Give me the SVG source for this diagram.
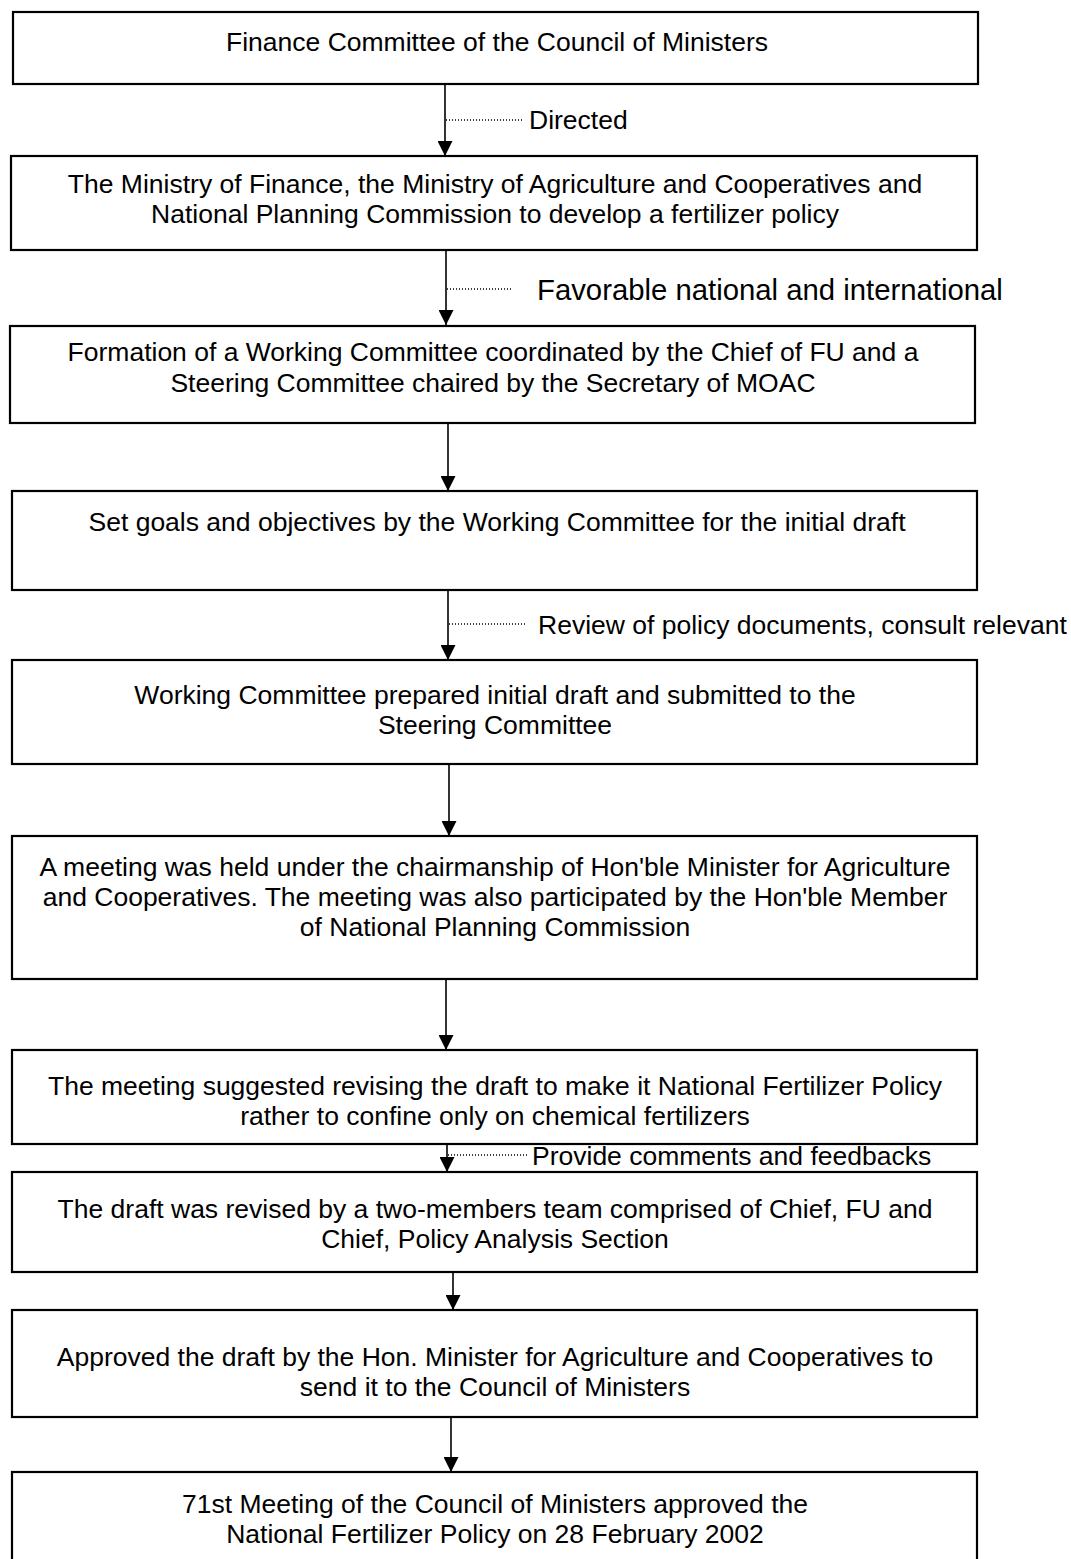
<svg xmlns="http://www.w3.org/2000/svg" width="1071" height="1559" viewBox="0 0 1071 1559">
<defs>
<style>
.box{fill:#fff;stroke:#000;stroke-width:2.2}
.t{font-family:"Liberation Sans",Arial,sans-serif;font-size:26.5px;fill:#000;text-anchor:middle}
.l{font-family:"Liberation Sans",Arial,sans-serif;font-size:26.5px;fill:#000}
.arr{stroke:#000;stroke-width:1.6;fill:none}
.dot{stroke:#000;stroke-width:1.5;stroke-dasharray:1 2;fill:none}
</style>
<marker id="ah" markerWidth="15" markerHeight="15" viewBox="0 0 15 15" refX="15" refY="7.5" orient="auto" markerUnits="userSpaceOnUse">
<path d="M0,0 L15,7.5 L0,15 Z" fill="#000"/>
</marker>
</defs>
<rect width="1071" height="1559" fill="#fff"/>
<g id="connectors">
<line class="arr" x1="445" y1="84" x2="445" y2="156" marker-end="url(#ah)"/>
<line class="dot" x1="446" y1="120" x2="524" y2="120"/>
<text class="l" x="529" y="128.5">Directed</text>
<line class="arr" x1="446" y1="250" x2="446" y2="325" marker-end="url(#ah)"/>
<line class="dot" x1="447" y1="289" x2="512" y2="289"/>
<text class="l" x="537" y="299.5" style="font-size:29.3px">Favorable national and international</text>
<line class="arr" x1="448" y1="423" x2="448" y2="491" marker-end="url(#ah)"/>
<line class="arr" x1="448" y1="590" x2="448" y2="660" marker-end="url(#ah)"/>
<line class="dot" x1="449" y1="624" x2="527" y2="624"/>
<text class="l" x="538" y="633.5">Review of policy documents, consult relevant</text>
<line class="arr" x1="449" y1="764" x2="449" y2="836" marker-end="url(#ah)"/>
<line class="arr" x1="446" y1="979" x2="446" y2="1050" marker-end="url(#ah)"/>
<line class="arr" x1="447" y1="1144" x2="447" y2="1172" marker-end="url(#ah)"/>
<line class="dot" x1="448" y1="1155" x2="528" y2="1155"/>
<text class="l" x="532" y="1164.5">Provide comments and feedbacks</text>
<line class="arr" x1="453" y1="1272" x2="453" y2="1310" marker-end="url(#ah)"/>
<line class="arr" x1="451" y1="1417" x2="451" y2="1472" marker-end="url(#ah)"/>
</g>
<g id="n1"><rect class="box" x="13" y="12" width="965" height="72"/>
<text class="t" x="497" y="50.5">Finance Committee of the Council of Ministers</text></g>
<g id="n2"><rect class="box" x="11" y="156" width="966" height="94"/>
<text class="t" x="495" y="192.5">The Ministry of Finance, the Ministry of Agriculture and Cooperatives and</text>
<text class="t" x="495" y="222.5">National Planning Commission to develop a fertilizer policy</text></g>
<g id="n3"><rect class="box" x="10" y="326" width="965" height="97"/>
<text class="t" x="493" y="360.5">Formation of a Working Committee coordinated by the Chief of FU and a</text>
<text class="t" x="493" y="391.5">Steering Committee chaired by the Secretary of MOAC</text></g>
<g id="n4"><rect class="box" x="12" y="491" width="965" height="99"/>
<text class="t" x="497" y="530.5">Set goals and objectives by the Working Committee for the initial draft</text></g>
<g id="n5"><rect class="box" x="12" y="660" width="965" height="104"/>
<text class="t" x="495" y="703.5">Working Committee prepared initial draft and submitted to the</text>
<text class="t" x="495" y="733.5">Steering Committee</text></g>
<g id="n6"><rect class="box" x="12" y="836" width="965" height="143"/>
<text class="t" x="495" y="875.5">A meeting was held under the chairmanship of Hon'ble Minister for Agriculture</text>
<text class="t" x="495" y="905.5">and Cooperatives. The meeting was also participated by the Hon'ble Member</text>
<text class="t" x="495" y="935.5">of National Planning Commission</text></g>
<g id="n7"><rect class="box" x="12" y="1050" width="965" height="94"/>
<text class="t" x="495" y="1094.5">The meeting suggested revising the draft to make it National Fertilizer Policy</text>
<text class="t" x="495" y="1124.5">rather to confine only on chemical fertilizers</text></g>
<g id="n8"><rect class="box" x="12" y="1172" width="965" height="100"/>
<text class="t" x="495" y="1217.5">The draft was revised by a two-members team comprised of Chief, FU and</text>
<text class="t" x="495" y="1247.5">Chief, Policy Analysis Section</text></g>
<g id="n9"><rect class="box" x="12" y="1310" width="965" height="107"/>
<text class="t" x="495" y="1365.5">Approved the draft by the Hon. Minister for Agriculture and Cooperatives to</text>
<text class="t" x="495" y="1395.5">send it to the Council of Ministers</text></g>
<g id="n10"><rect class="box" x="12" y="1472" width="965" height="100"/>
<text class="t" x="495" y="1512.5">71st Meeting of the Council of Ministers approved the</text>
<text class="t" x="495" y="1542.5">National Fertilizer Policy on 28 February 2002</text></g>
</svg>
